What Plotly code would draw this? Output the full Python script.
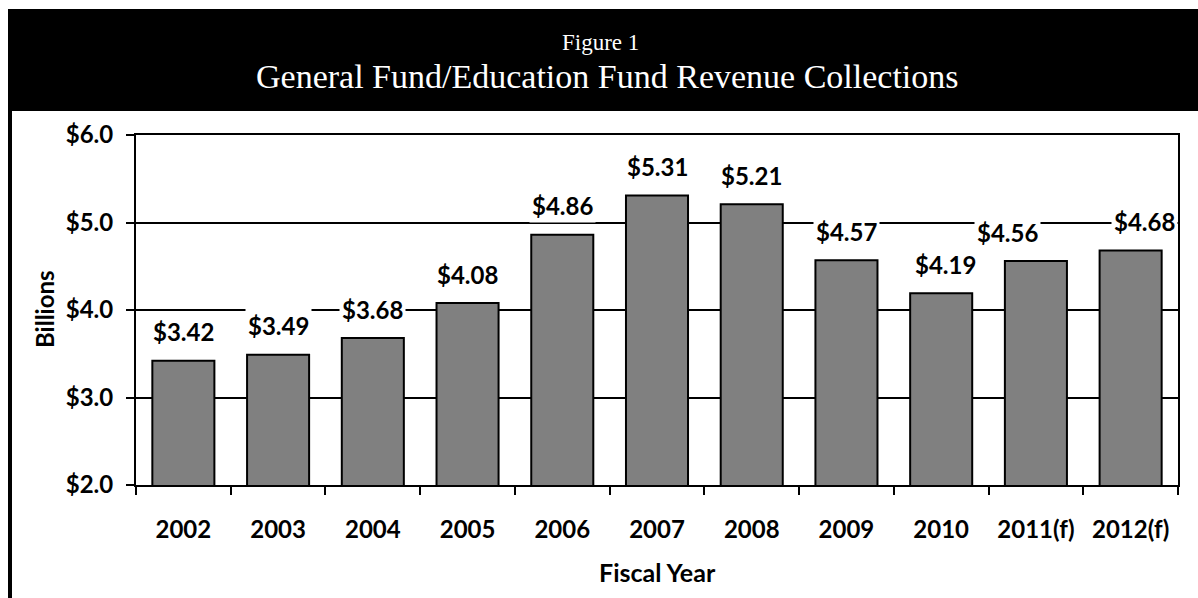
import plotly.graph_objects as go

# Fiscal years and General Fund/Education Fund revenue (billions of dollars)
years = ["2002", "2003", "2004", "2005", "2006", "2007", "2008", "2009", "2010", "2011(f)", "2012(f)"]
revenue = [3.42, 3.49, 3.68, 4.08, 4.86, 5.31, 5.21, 4.57, 4.19, 4.56, 4.68]
y_ticks = [2.0, 3.0, 4.0, 5.0, 6.0]
y_tick_text = [f"${v:.1f}" for v in y_ticks]

# label nudges (pixels) so neighbouring labels clear each other
label_dx = [0, 0, 0, 0, 0, 0, 0, 0, 4, -28, 14]

W, H = 1198, 598
PL, PR, PT, PB = 136, 1178, 135, 485  # plot area in pixels

def px(x):
    return (x - PL) / (PR - PL)

def py(y):
    return (PB - y) / (PB - PT)

SANS = "Lato, 'Open Sans', sans-serif"
LABEL_FONT = dict(family=SANS, size=24, color="black", weight="bold")

fig = go.Figure(
    go.Bar(
        x=years,
        y=revenue,
        marker=dict(color="#808080", line=dict(color="black", width=2)),
        hoverinfo="x+y",
    )
)

# value labels sit above each bar on a white box that breaks the gridlines
annotations = []
for i, (v, dx) in enumerate(zip(revenue, label_dx)):
    annotations.append(dict(
        x=i, y=v, xref="x", yref="y", text=f"${v:.2f}", showarrow=False,
        yanchor="middle", yshift=29, xshift=dx, font=LABEL_FONT,
        bgcolor="white", borderpad=2,
    ))

serif = "'Liberation Serif', 'DejaVu Serif', serif"
annotations += [
    dict(x=px(600), y=py(43), xref="paper", yref="paper", text="Figure 1", showarrow=False,
         xanchor="center", yanchor="middle", font=dict(family=serif, size=23, color="white")),
    dict(x=px(607), y=py(76), xref="paper", yref="paper",
         text="General Fund/Education Fund Revenue Collections", showarrow=False,
         xanchor="center", yanchor="middle", font=dict(family=serif, size=34, color="white")),
    dict(x=px(44), y=py(309), xref="paper", yref="paper", text="Billions", showarrow=False,
         textangle=-90, xanchor="center", yanchor="middle",
         font=dict(family=SANS, size=24, color="black", weight="bold")),
    dict(x=px(657), y=py(572), xref="paper", yref="paper", text="Fiscal Year", showarrow=False,
         xanchor="center", yanchor="middle",
         font=dict(family=SANS, size=25, color="black", weight="bold")),
]

shapes = [
    # black header band
    dict(type="rect", xref="paper", yref="paper", x0=px(8), x1=px(W + 2), y0=py(111), y1=py(9),
         fillcolor="black", line=dict(width=0), layer="below"),
    # left frame rule
    dict(type="rect", xref="paper", yref="paper", x0=px(8), x1=px(12), y0=py(H + 2), y1=py(111),
         fillcolor="black", line=dict(width=0), layer="below"),
]

fig.update_layout(
    width=W, height=H,
    margin=dict(l=PL, r=W - PR, t=PT, b=H - PB, autoexpand=False),
    paper_bgcolor="white", plot_bgcolor="white",
    bargap=0.345,
    showlegend=False,
    annotations=annotations,
    shapes=shapes,
    font=dict(family=SANS, color="black"),
)

fig.update_xaxes(
    type="category", categoryorder="array", categoryarray=years,
    range=[-0.5, len(years) - 0.5], autorange=False,
    tickson="boundaries", ticks="outside", ticklen=8, tickwidth=2, tickcolor="black",
    showline=True, linecolor="black", linewidth=2, mirror=True,
    showgrid=False,
    tickfont=LABEL_FONT, ticklabelstandoff=22,
)

fig.update_yaxes(
    range=[2, 6], autorange=False, tickmode="array", tickvals=y_ticks, ticktext=y_tick_text,
    ticks="outside", ticklen=8, tickwidth=2, tickcolor="black",
    showline=True, linecolor="black", linewidth=2, mirror=True,
    showgrid=True, gridcolor="black", gridwidth=2,
    tickfont=LABEL_FONT, ticklabelstandoff=8,
    zeroline=False,
)

fig.write_html("out.html")
